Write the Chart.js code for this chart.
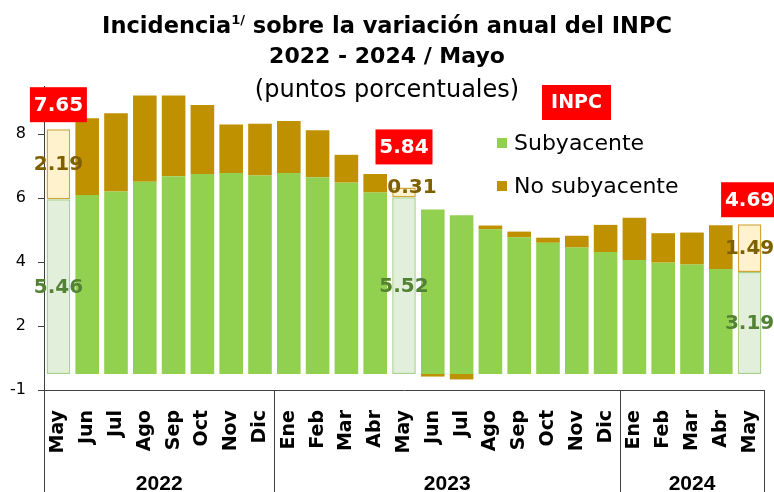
<!DOCTYPE html>
<html><head><meta charset="utf-8">
<script src="https://cdn.jsdelivr.net/npm/chart.js@4"></script>
<style>html,body{margin:0;padding:0;background:#fff;}canvas{display:block;}</style>
</head><body>
<canvas id="c" width="774" height="492"></canvas>
<script>
// ---- data ----
const months = ['May','Jun','Jul','Ago','Sep','Oct','Nov','Dic','Ene','Feb','Mar','Abr','May','Jun','Jul','Ago','Sep','Oct','Nov','Dic','Ene','Feb','Mar','Abr','May'];
const years = ['2022','2022','2022','2022','2022','2022','2022','2022','2023','2023','2023','2023','2023','2023','2023','2023','2023','2023','2023','2023','2024','2024','2024','2024','2024'];
const subyacente = [5.46,5.59,5.70,6.01,6.18,6.25,6.28,6.20,6.28,6.15,5.98,5.67,5.52,5.14,4.96,4.52,4.27,4.10,3.95,3.81,3.56,3.48,3.42,3.28,3.19];
const noSubyacente = [2.19,2.40,2.45,2.69,2.52,2.16,1.52,1.62,1.63,1.47,0.87,0.58,0.31,-0.08,-0.17,0.12,0.18,0.16,0.37,0.85,1.32,0.92,1.00,1.37,1.49];
const inpc = [7.65,7.99,8.15,8.70,8.70,8.41,7.80,7.82,7.91,7.62,6.85,6.25,5.84,5.06,4.79,4.64,4.45,4.26,4.32,4.66,4.88,4.40,4.42,4.65,4.69];
const yTickValues = [-0.5,1.5,3.5,5.5,7.5];
const yTickLabels = ['-1','2','4','6','8'];
const seriesNames = ['Subyacente','No subyacente'];
const titleMain = 'Incidencia';
const titleSup = '1/';
const titleRest = ' sobre la variación anual del INPC';
const title2 = '2022 - 2024 / Mayo';
const title3 = '(puntos porcentuales)';
const inpcTag = 'INPC';

// ---- styles ----
const F = '"DejaVu Sans", sans-serif';
const AXIS = '#404040';
const GREEN = '#92D050', GREEN_L = '#E2EFDA', GREEN_B = '#A9D18E';
const GOLD = '#BF9000', GOLD_L = '#FFF2CC', GOLD_B = '#CFA737';
const RED = '#FF0000';
const isHi = m => m === 'May';

const overlay = {
  id: 'overlay',
  afterDraw(chart) {
    const ctx = chart.ctx, xs = chart.scales.x, ca = chart.chartArea;
    const m0 = chart.getDatasetMeta(0), m1 = chart.getDatasetMeta(1);
    ctx.save();
    // year separators
    const half = (xs.getPixelForValue(1) - xs.getPixelForValue(0)) / 2;
    const bounds = [ca.left];
    for (let i = 1; i < years.length; i++) if (years[i] !== years[i-1]) bounds.push(xs.getPixelForValue(i) - half);
    bounds.push(ca.right);
    ctx.strokeStyle = AXIS; ctx.lineWidth = 1;
    bounds.forEach(x => {
      const px = Math.round(x - 0.5) + 0.5;
      ctx.beginPath(); ctx.moveTo(px, ca.bottom); ctx.lineTo(px, chart.height); ctx.stroke();
    });
    // year labels
    ctx.fillStyle = '#000'; ctx.textAlign = 'center'; ctx.textBaseline = 'alphabetic';
    ctx.font = 'bold 21px "Liberation Sans", Arial, sans-serif';
    const uniq = [...new Set(years)];
    uniq.forEach((y, k) => ctx.fillText(y, (bounds[k] + bounds[k+1]) / 2, 490));

    // highlighted bars: inner labels + red boxes
    months.forEach((m, i) => {
      if (!isHi(m)) return;
      const g = m0.data[i], o = m1.data[i];
      ctx.font = 'bold 20px ' + F; ctx.textAlign = 'center'; ctx.textBaseline = 'middle';
      ctx.fillStyle = '#548235';
      ctx.fillText(subyacente[i].toFixed(2), g.x, (g.y + g.base) / 2 + 1);
      ctx.fillStyle = '#7F6000';
      const segH = Math.abs(o.base - o.y);
      ctx.fillText(noSubyacente[i].toFixed(2), o.x + (segH < 20 ? 8 : 0), (o.y + o.base) / 2 + (segH < 20 ? -5 : 1));
      const top = Math.min(g.y, o.y);
      const bw = 57, bh = 35, lift = 7 + (segH < 20 ? 16 : 0);
      const by = top - lift - bh;
      ctx.fillStyle = RED; ctx.fillRect(g.x - bw/2, by, bw, bh);
      ctx.fillStyle = '#fff';
      ctx.fillText(inpc[i].toFixed(2), g.x, by + bh/2 + 1);
    });

    // INPC tag
    ctx.fillStyle = RED; ctx.fillRect(542, 85, 69, 35);
    ctx.fillStyle = '#fff'; ctx.font = 'bold 19px ' + F; ctx.textAlign = 'center'; ctx.textBaseline = 'middle';
    ctx.fillText(inpcTag, 576.5, 103);

    // legend
    const legCols = [GREEN, GOLD];
    ctx.font = '22px ' + F; ctx.textAlign = 'left'; ctx.textBaseline = 'middle';
    seriesNames.forEach((s, k) => {
      const cy = 143 + k * 43;
      ctx.fillStyle = legCols[k]; ctx.fillRect(497, cy - 5, 10, 10);
      ctx.fillStyle = '#000'; ctx.fillText(s, 514, cy + 1);
    });

    // title
    ctx.fillStyle = '#000'; ctx.textBaseline = 'alphabetic';
    const cx = 387;
    ctx.font = 'bold 22.5px ' + F;
    const wm = ctx.measureText(titleMain).width, wr = ctx.measureText(titleRest).width;
    ctx.font = 'bold 13px ' + F;
    const ws = ctx.measureText(titleSup).width;
    let x = cx - (wm + ws + wr) / 2;
    ctx.textAlign = 'left';
    ctx.font = 'bold 22.5px ' + F; ctx.fillText(titleMain, x, 33); x += wm;
    ctx.font = 'bold 13px ' + F; ctx.fillText(titleSup, x, 24); x += ws;
    ctx.font = 'bold 22.5px ' + F; ctx.fillText(titleRest, x, 33);
    ctx.textAlign = 'center';
    ctx.font = 'bold 22px ' + F;
    ctx.fillText(title2, cx, 63);
    ctx.font = '24px ' + F; ctx.fillText(title3, cx, 97);
    ctx.restore();
  }
};

new Chart(document.getElementById('c'), {
  type: 'bar',
  data: {
    labels: months,
    datasets: [
      { label: seriesNames[0], data: subyacente, stack: 's',
        backgroundColor: months.map(m => isHi(m) ? GREEN_L : GREEN),
        borderColor: months.map(m => isHi(m) ? GREEN_B : GREEN),
        borderWidth: months.map(m => isHi(m) ? 1.5 : 0),
        borderSkipped: false, barPercentage: 0.82, categoryPercentage: 1 },
      { label: seriesNames[1], data: noSubyacente, stack: 's',
        backgroundColor: months.map(m => isHi(m) ? GOLD_L : GOLD),
        borderColor: months.map(m => isHi(m) ? GOLD_B : GOLD),
        borderWidth: months.map(m => isHi(m) ? 1.5 : 0),
        borderSkipped: false, barPercentage: 0.82, categoryPercentage: 1 }
    ]
  },
  options: {
    responsive: false, animation: false, devicePixelRatio: 1,
    layout: { padding: { top: 86, right: 10, left: 0, bottom: 0 } },
    plugins: { legend: { display: false }, title: { display: false }, tooltip: { enabled: false } },
    scales: {
      x: {
        stacked: true,
        grid: { display: false },
        border: { display: true, color: AXIS, width: 1 },
        ticks: { autoSkip: false, maxRotation: 90, minRotation: 90, padding: 12, color: '#000',
                 font: { family: F, size: 19, weight: 'bold' } },
        afterFit(s) { s.height = 102; s.paddingLeft = 0; s.paddingRight = 0; }
      },
      y: {
        stacked: true, min: -0.5, max: 9,
        afterBuildTicks(s) { s.ticks = yTickValues.map(v => ({ value: v })); },
        ticks: { autoSkip: false, padding: 12, color: '#000', font: { family: F, size: 16 },
                 callback: (v, i) => yTickLabels[i] },
        grid: { drawOnChartArea: false, drawTicks: true, tickLength: 6, color: AXIS },
        border: { display: true, color: AXIS, width: 1 },
        afterFit(s) { s.width = 44; s.paddingTop = 0; s.paddingBottom = 0; }
      }
    }
  },
  plugins: [overlay]
});
</script>
</body></html>
